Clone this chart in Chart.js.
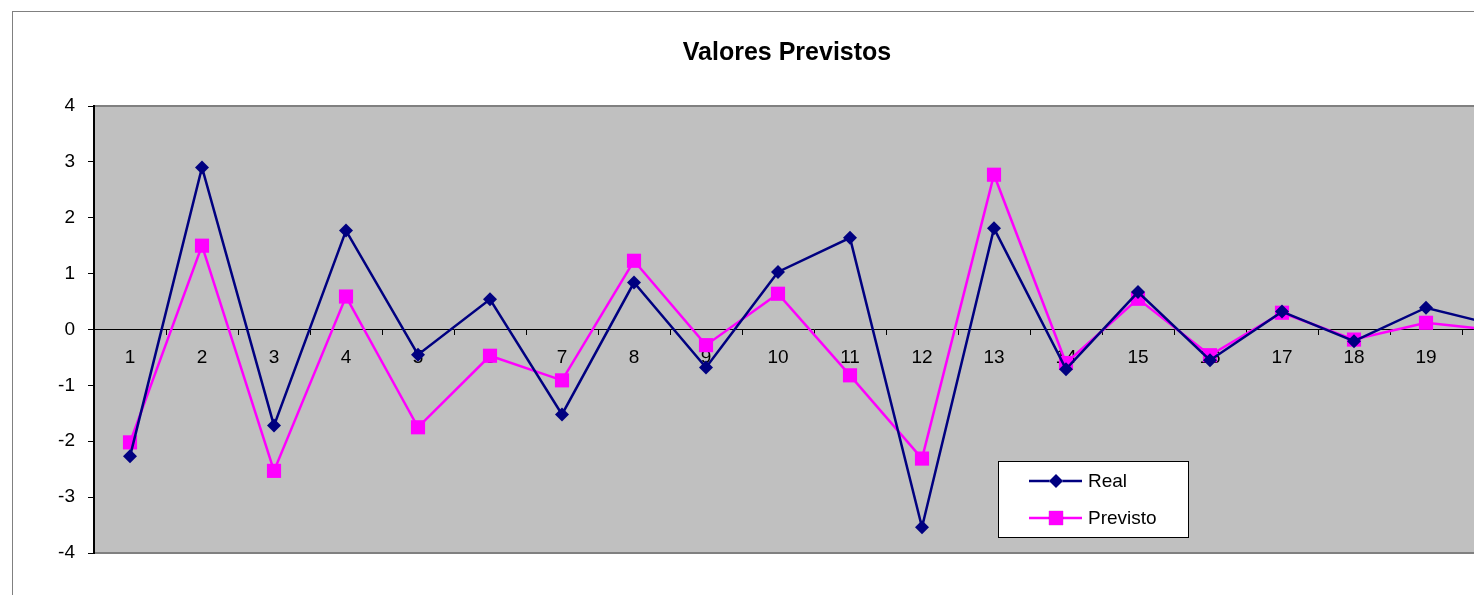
<!DOCTYPE html>
<html>
<head>
<meta charset="utf-8">
<title>Valores Previstos</title>
<script src="https://cdn.jsdelivr.net/npm/chart.js@4"></script>
<style>
  html, body { margin: 0; padding: 0; background: #fff; overflow: hidden; }
  #wrap { position: absolute; left: 0; top: 0; width: 1600px; height: 620px; }
</style>
</head>
<body>
<div id="wrap"><canvas id="chart-previstos" width="1600" height="620"></canvas></div>
<script>
const periodos = ['1', '2', '3', '4', '5', '6', '7', '8', '9', '10',
    '11', '12', '13', '14', '15', '16', '17', '18', '19', '20'];

const real = [-2.27, 2.90, -1.72, 1.77, -0.45, 0.54, -1.52, 0.84, -0.68, 1.03,
    1.64, -3.54, 1.81, -0.71, 0.67, -0.55, 0.32, -0.21, 0.39, 0.07];

const previsto = [-2.02, 1.50, -2.53, 0.59, -1.75, -0.47, -0.91, 1.23, -0.28, 0.64,
    -0.82, -2.31, 2.77, -0.60, 0.55, -0.46, 0.30, -0.18, 0.12, -0.02];

const yTicks = [-4, -3, -2, -1, 0, 1, 2, 3, 4];

const FONT = "Arial, 'Liberation Sans', sans-serif";

// grey plot area with its frame, plus the outer chart border
const plotArea = {
    id: 'plotArea',
    beforeDraw(chart)
    {
        const ctx = chart.ctx;
        const a = chart.chartArea;

        ctx.save();
        ctx.strokeStyle = '#808080';
        ctx.lineWidth = 1;
        ctx.strokeRect(12.5, 11.5, chart.width, chart.height);

        ctx.fillStyle = '#C0C0C0';
        ctx.fillRect(a.left, a.top, a.right - a.left, a.bottom - a.top);

        ctx.strokeStyle = '#808080';
        ctx.lineWidth = 2;
        ctx.beginPath();
        ctx.moveTo(a.left, a.top);
        ctx.lineTo(a.right, a.top);
        ctx.lineTo(a.right, a.bottom);
        ctx.lineTo(a.left, a.bottom);
        ctx.stroke();
        ctx.restore();
    }
};

// boxed legend sitting inside the plot
const boxLegend = {
    id: 'boxLegend',
    afterDraw(chart)
    {
        const ctx = chart.ctx;
        const x = 998.5, y = 461.5, w = 190, h = 76;

        ctx.save();
        ctx.fillStyle = '#fff';
        ctx.fillRect(x, y, w, h);
        ctx.strokeStyle = '#000';
        ctx.lineWidth = 1;
        ctx.strokeRect(x, y, w, h);

        const rows = [481, 518];
        chart.data.datasets.forEach((ds, i) => {
            const ly = rows[i];
            ctx.strokeStyle = ds.borderColor;
            ctx.lineWidth = ds.borderWidth;
            ctx.beginPath();
            ctx.moveTo(1029, ly);
            ctx.lineTo(1082, ly);
            ctx.stroke();

            Chart.helpers.drawPoint(ctx, {
                pointStyle: ds.pointStyle,
                radius: ds.pointRadius,
                borderWidth: 0
            }, 1056, ly);
            ctx.fillStyle = ds.pointBackgroundColor;
            ctx.fill();

            ctx.fillStyle = '#000';
            ctx.font = '19px ' + FONT;
            ctx.textBaseline = 'middle';
            ctx.fillText(ds.label, 1088, ly + 1);
        });
        ctx.restore();
    }
};

const chart = new Chart(document.getElementById('chart-previstos'), {
    type: 'line',
    data: {
        labels: periodos,
        datasets: [{
            label: 'Real',
            data: real,
            borderColor: '#000080',
            backgroundColor: '#000080',
            pointBackgroundColor: '#000080',
            pointBorderColor: '#000080',
            borderWidth: 2.5,
            pointStyle: 'rectRot',
            pointRadius: 7,
            pointBorderWidth: 0,
            tension: 0,
            fill: false
        }, {
            label: 'Previsto',
            data: previsto,
            borderColor: '#FF00FF',
            backgroundColor: '#FF00FF',
            pointBackgroundColor: '#FF00FF',
            pointBorderColor: '#FF00FF',
            borderWidth: 2.5,
            pointStyle: 'rect',
            pointRadius: 10,
            pointBorderWidth: 0,
            tension: 0,
            fill: false
        }]
    },
    options: {
        responsive: false,
        animation: false,
        events: [],
        layout: {
            padding: { left: 40, right: 66, top: 0, bottom: 67 }
        },
        plugins: {
            legend: { display: false },
            tooltip: { enabled: false },
            title: {
                display: true,
                text: 'Valores Previstos',
                color: '#000',
                font: { family: FONT, size: 25, weight: 'bold', lineHeight: 1.2 },
                padding: { top: 38, bottom: 38 }
            }
        },
        scales: {
            x: {
                type: 'category',
                position: { y: 0 },
                offset: true,
                grid: {
                    offset: true,
                    drawOnChartArea: false,
                    drawTicks: true,
                    tickLength: 5,
                    color: '#000',
                    lineWidth: 1
                },
                border: { display: true, color: '#000', width: 1 },
                ticks: {
                    color: '#000',
                    font: { family: FONT, size: 19 },
                    padding: 12,
                    autoSkip: false,
                    maxRotation: 0
                }
            },
            y: {
                min: -4,
                max: 4,
                afterFit(scale) { scale.width = 54; },
                afterBuildTicks(scale) { scale.ticks = yTicks.map((v) => ({ value: v })); },
                grid: {
                    drawOnChartArea: false,
                    drawTicks: true,
                    tickLength: 6,
                    color: '#000',
                    lineWidth: 1
                },
                border: { display: true, color: '#000', width: 2 },
                ticks: {
                    color: '#000',
                    font: { family: FONT, size: 19 },
                    padding: 13
                }
            }
        }
    },
    plugins: [plotArea, boxLegend]
});
</script>
</body>
</html>
